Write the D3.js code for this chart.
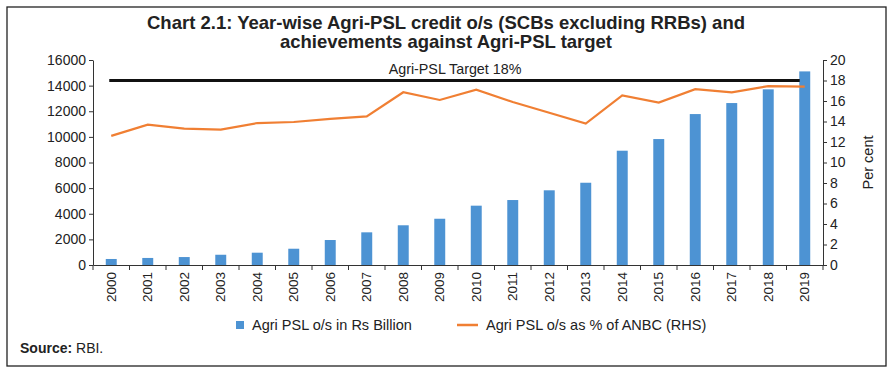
<!DOCTYPE html>
<meta charset="utf-8">
<style>
  body { margin: 0; background: #fff; }
  text { font-family: "Liberation Sans", Arial, sans-serif; fill: #222; }
</style>
<div id="chart"></div>
<script src="https://cdn.jsdelivr.net/npm/d3@7"></script>
<script>

var years = ["2000","2001","2002","2003","2004","2005","2006","2007","2008","2009",
             "2010","2011","2012","2013","2014","2015","2016","2017","2018","2019"];
var psl = [470, 550, 620, 800, 960, 1270, 1950, 2550, 3100, 3610,
           4630, 5070, 5830, 6420, 8920, 9830, 11780, 12640, 13710, 15110];
var pctAnbc = [12.6, 13.7, 13.3, 13.2, 13.85, 13.95, 14.25, 14.5, 16.85, 16.1,
               17.1, 15.9, 14.85, 13.8, 16.55, 15.85, 17.15, 16.85, 17.45, 17.4];
var target = 18;
var leftTicks = [0, 2000, 4000, 6000, 8000, 10000, 12000, 14000, 16000];
var rightTicks = [0, 2, 4, 6, 8, 10, 12, 14, 16, 18, 20];

var W = 894, H = 378;
var margin = {top: 60, right: 71, bottom: 113, left: 93},
    width = W - margin.left - margin.right,
    height = H - margin.top - margin.bottom;

var root = d3.select("#chart").append("svg")
    .attr("width", W)
    .attr("height", H);

// frame
root.append("rect")
    .attr("x", 7).attr("y", 7)
    .attr("width", 879).attr("height", 359)
    .attr("fill", "none")
    .attr("stroke", "#222")
    .attr("stroke-width", 1.3);

// title
var title = root.append("text")
    .attr("x", 446)
    .attr("text-anchor", "middle")
    .style("font-family", "'Liberation Sans Narrow', 'Arial Narrow', 'Liberation Sans', sans-serif")
    .style("font-weight", "bold")
    .style("font-size", "18.5px");
title.append("tspan").attr("x", 446).attr("y", 29)
    .text("Chart 2.1: Year-wise Agri-PSL credit o/s (SCBs excluding RRBs) and");
title.append("tspan").attr("x", 446).attr("y", 48)
    .text("achievements against Agri-PSL target");

var svg = root.append("g")
    .attr("transform", "translate(" + margin.left + "," + margin.top + ")");

var x = d3.scaleBand()
    .domain(years)
    .range([0, width])
    .paddingInner(0.7)
    .paddingOuter(0.35);

var y = d3.scaleLinear().domain([0, 16000]).range([height, 0]);
var y2 = d3.scaleLinear().domain([0, 20]).range([height, 0]);

// bars
svg.selectAll("rect.bar")
  .data(psl)
  .enter()
  .append("rect")
    .attr("class", "bar")
    .attr("x", function(d, i) { return x(years[i]); })
    .attr("width", x.bandwidth())
    .attr("y", function(d) { return y(d); })
    .attr("height", function(d) { return height - y(d); })
    .attr("fill", "#4d93d3");

var cx = function(i) { return x(years[i]) + x.bandwidth() / 2; };

// target line
svg.append("line")
    .attr("x1", cx(0) - 2)
    .attr("x2", cx(years.length - 1) - 5)
    .attr("y1", y2(target))
    .attr("y2", y2(target))
    .attr("stroke", "#111")
    .attr("stroke-width", 3.2);

svg.append("text")
    .attr("x", width / 2 - 3)
    .attr("y", y2(target) - 7)
    .attr("text-anchor", "middle")
    .style("font-size", "14.3px")
    .text("Agri-PSL Target " + target + "%");

// percentage line
var line = d3.line()
    .x(function(d, i) { return cx(i); })
    .y(function(d) { return y2(d); });

svg.append("path")
    .datum(pctAnbc)
    .attr("d", line)
    .attr("fill", "none")
    .attr("stroke", "#f07f33")
    .attr("stroke-width", 2.2);

// axes
var axisColor = "#333";
var tickFont = "'Liberation Sans', Arial, sans-serif";

var gx = svg.append("g")
    .attr("transform", "translate(0," + height + ")")
    .call(d3.axisBottom(x).tickSize(0));
gx.select(".domain").attr("stroke", axisColor);
gx.selectAll("text")
    .attr("transform", "rotate(-90)")
    .attr("x", -7)
    .attr("y", 0)
    .attr("dy", "0.35em")
    .style("text-anchor", "end")
    .style("font-size", "13.5px")
    .style("font-family", tickFont);

// separator ticks between categories
var step = x.step();
svg.append("g")
  .selectAll("line")
  .data(d3.range(years.length + 1))
  .enter()
  .append("line")
    .attr("x1", function(d) { return d * step; })
    .attr("x2", function(d) { return d * step; })
    .attr("y1", height)
    .attr("y2", height + 5)
    .attr("stroke", axisColor);

var gl = svg.append("g")
    .call(d3.axisLeft(y).tickValues(leftTicks).tickFormat(d3.format("d"))
      .tickSize(4).tickSizeOuter(0).tickPadding(3));
gl.selectAll(".domain, line").attr("stroke", axisColor);
gl.selectAll("text").style("font-size", "14px")
    .style("font-family", tickFont);

var gr = svg.append("g")
    .attr("transform", "translate(" + width + ",0)")
    .call(d3.axisRight(y2).tickValues(rightTicks).tickSize(4).tickSizeOuter(0).tickPadding(3));
gr.selectAll(".domain, line").attr("stroke", axisColor);
gr.selectAll("text").style("font-size", "14px")
    .style("font-family", tickFont);

svg.append("text")
    .attr("transform", "translate(" + (width + 50) + "," + (height / 2) + ")rotate(-90)")
    .attr("text-anchor", "middle")
    .style("font-size", "14.5px")
    .text("Per cent");

// legend
var leg = root.append("g");
leg.append("rect")
    .attr("x", 236).attr("y", 321)
    .attr("width", 8).attr("height", 8)
    .attr("fill", "#4d93d3");
leg.append("text")
    .attr("x", 252).attr("y", 330)
    .style("font-size", "14.5px")
    .text("Agri PSL o/s in Rs Billion");
leg.append("line")
    .attr("x1", 457).attr("x2", 478)
    .attr("y1", 325).attr("y2", 325)
    .attr("stroke", "#f07f33")
    .attr("stroke-width", 2.5);
leg.append("text")
    .attr("x", 486).attr("y", 330)
    .style("font-size", "14.5px")
    .text("Agri PSL o/s as % of ANBC (RHS)");

// source
var src = root.append("text")
    .attr("x", 20).attr("y", 353)
    .style("font-size", "14px");
src.append("tspan").style("font-weight", "bold").text("Source:");
src.append("tspan").text(" RBI.");

</script>
